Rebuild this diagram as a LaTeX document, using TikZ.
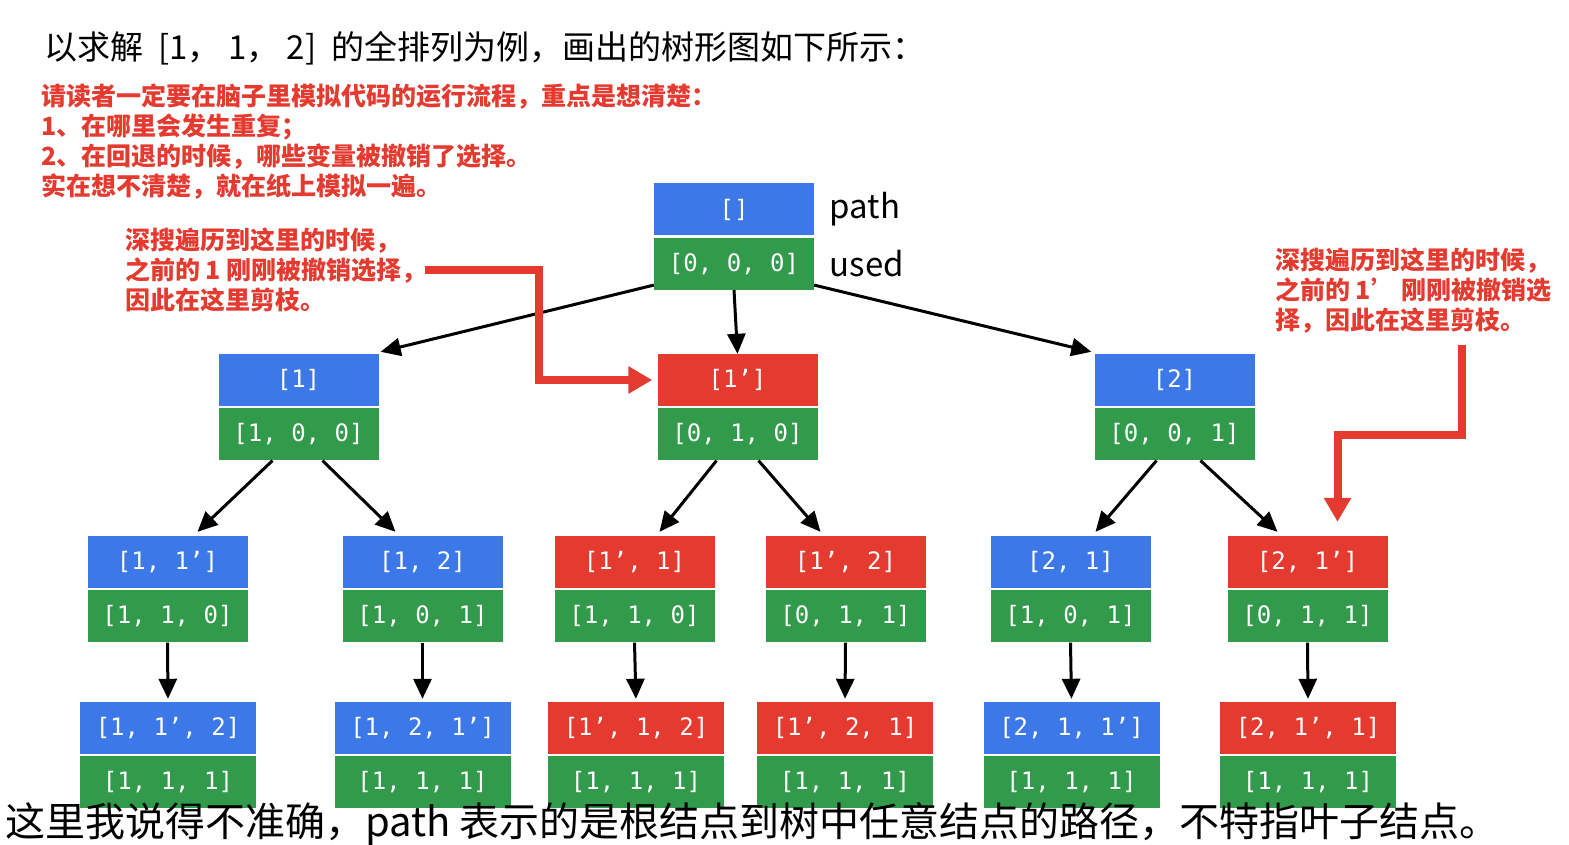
\documentclass[tikz,border=0pt]{standalone}
\usepackage{fontspec}
\usepackage{xcolor}
\usetikzlibrary{arrows.meta, positioning, calc}
\newfontfamily\cjk{Noto Sans CJK SC}
\newfontfamily\mono{DejaVu Sans Mono}
\definecolor{pblue}{HTML}{3D78E9}
\definecolor{ugreen}{HTML}{319A4B}
\definecolor{hred}{HTML}{E43A30}

\tikzset{
  cell/.style={inner sep=0pt, minimum height=52pt, text=white,
    font=\mono\fontsize{24}{24}\selectfont},
  edge/.style={line width=3pt, -{Triangle[length=20pt,width=18pt]}},
  hint/.style={draw=hred, line width=8pt, -{Triangle[length=24pt,width=26pt]}},
  note/.style={text=hred, align=left, inner sep=0pt,
    font=\cjk\bfseries\fontsize{25}{30}\selectfont},
}
% path-Kasten oben, used-Kasten darunter
\newcommand{\stbox}[7]{%
  \node[cell, fill=#5, minimum width=#4] (#1-p) at (#2,#3) {#6};
  \node[cell, fill=ugreen, minimum width=#4, below=2pt of #1-p] (#1-u) {#7};
}

\begin{document}
\begin{tikzpicture}[x=1pt, y=-1pt]
  \useasboundingbox[fill=white] (0,0) rectangle (1569,845);

  \node[anchor=west, font=\cjk\fontsize{33}{33}\selectfont] (title) at (41,48)
    {以求解\ \ [1，\ 1，\ 2]\ \ 的全排列为例，画出的树形图如下所示：};
  \node[note, anchor=north west] (hint) at (41,84)
    {请读者一定要在脑子里模拟代码的运行流程，重点是想清楚：\\
     1、在哪里会发生重复；\\
     2、在回退的时候，哪些变量被撤销了选择。\\
     实在想不清楚，就在纸上模拟一遍。};

  % Baum
  \stbox{r}{734}{209.5}{160pt}{pblue}{[]}{[0, 0, 0]}
  \node[anchor=west, font=\cjk\fontsize{33}{33}\selectfont, right=12pt of r-p] (lp) {path};
  \node[anchor=west, font=\cjk\fontsize{33}{33}\selectfont, right=12pt of r-u] (lu) {used};

  \stbox{a}{298.5}{380}{160pt}{pblue}{[1]}{[1, 0, 0]}
  \stbox{b}{737.5}{380}{160pt}{hred}{[1’]}{[0, 1, 0]}
  \stbox{c}{1174.5}{380}{160pt}{pblue}{[2]}{[0, 0, 1]}

  \stbox{aa}{167.5}{562}{160pt}{pblue}{[1, 1’]}{[1, 1, 0]}
  \stbox{ab}{422.5}{562}{160pt}{pblue}{[1, 2]}{[1, 0, 1]}
  \stbox{ba}{634.5}{562}{160pt}{hred}{[1’, 1]}{[1, 1, 0]}
  \stbox{bb}{845.5}{562}{160pt}{hred}{[1’, 2]}{[0, 1, 1]}
  \stbox{ca}{1070.5}{562}{160pt}{pblue}{[2, 1]}{[1, 0, 1]}
  \stbox{cb}{1307.5}{562}{160pt}{hred}{[2, 1’]}{[0, 1, 1]}

  \stbox{aaa}{168}{728}{176pt}{pblue}{[1, 1’, 2]}{[1, 1, 1]}
  \stbox{aba}{422.5}{728}{176pt}{pblue}{[1, 2, 1’]}{[1, 1, 1]}
  \stbox{baa}{636}{728}{176pt}{hred}{[1’, 1, 2]}{[1, 1, 1]}
  \stbox{bba}{845}{728}{176pt}{hred}{[1’, 2, 1]}{[1, 1, 1]}
  \stbox{caa}{1071.5}{728}{176pt}{pblue}{[2, 1, 1’]}{[1, 1, 1]}
  \stbox{cba}{1308}{728}{176pt}{hred}{[2, 1’, 1]}{[1, 1, 1]}

  \draw[edge] ($(r-u.south west)+(0,-5)$) -- ($(a-p.north east)+(2,-2)$);
  \draw[edge] (r-u.south) -- (b-p.north);
  \draw[edge] ($(r-u.south east)+(0,-5)$) -- ($(c-p.north west)+(-3,-2)$);

  \draw[edge] ($(a-u.south)+(-26,0)$) -- ($(aa-p.north)+(30,-4)$);
  \draw[edge] ($(a-u.south)+(24,0)$) -- ($(ab-p.north)+(-27,-4)$);
  \draw[edge] ($(b-u.south)+(-21,0)$) -- ($(ba-p.north)+(25,-4)$);
  \draw[edge] ($(b-u.south)+(21,0)$) -- ($(bb-p.north)+(-25,-4)$);
  \draw[edge] ($(c-u.south)+(-18,0)$) -- ($(ca-p.north)+(25,-4)$);
  \draw[edge] ($(c-u.south)+(26,0)$) -- ($(cb-p.north)+(-30,-4)$);

  \foreach \s/\t in {aa/aaa, ab/aba, ba/baa, bb/bba, ca/caa, cb/cba}
    \draw[edge, shorten >=3pt] (\s-u.south) -- (\t-p.north);

  % Hinweise
  \node[note, anchor=west] (noteL) at (125,270)
    {深搜遍历到这里的时候，\\之前的 1 刚刚被撤销选择，\\因此在这里剪枝。};
  \node[note, anchor=west] (noteR) at (1275,291)
    {深搜遍历到这里的时候，\\之前的 1’\ 刚刚被撤销选\\择，因此在这里剪枝。};

  \draw[hint, shorten >=5pt] ($(noteL.east)+(-2,0)$) -| ($(b-p.west)+(-118,0)$) -- (b-p.west);
  \coordinate (k2) at (1462,345);
  \draw[hint] (k2) |- ($(cb-p.north)+(30,-101)$) -- ($(cb-p.north)+(30,-14)$);

  \node[anchor=west, font=\cjk\fontsize{40}{40}\selectfont] (sub) at (2,824)
    {这里我说得不准确，path 表示的是根结点到树中任意结点的路径，不特指叶子结点。};
\end{tikzpicture}
\end{document}
